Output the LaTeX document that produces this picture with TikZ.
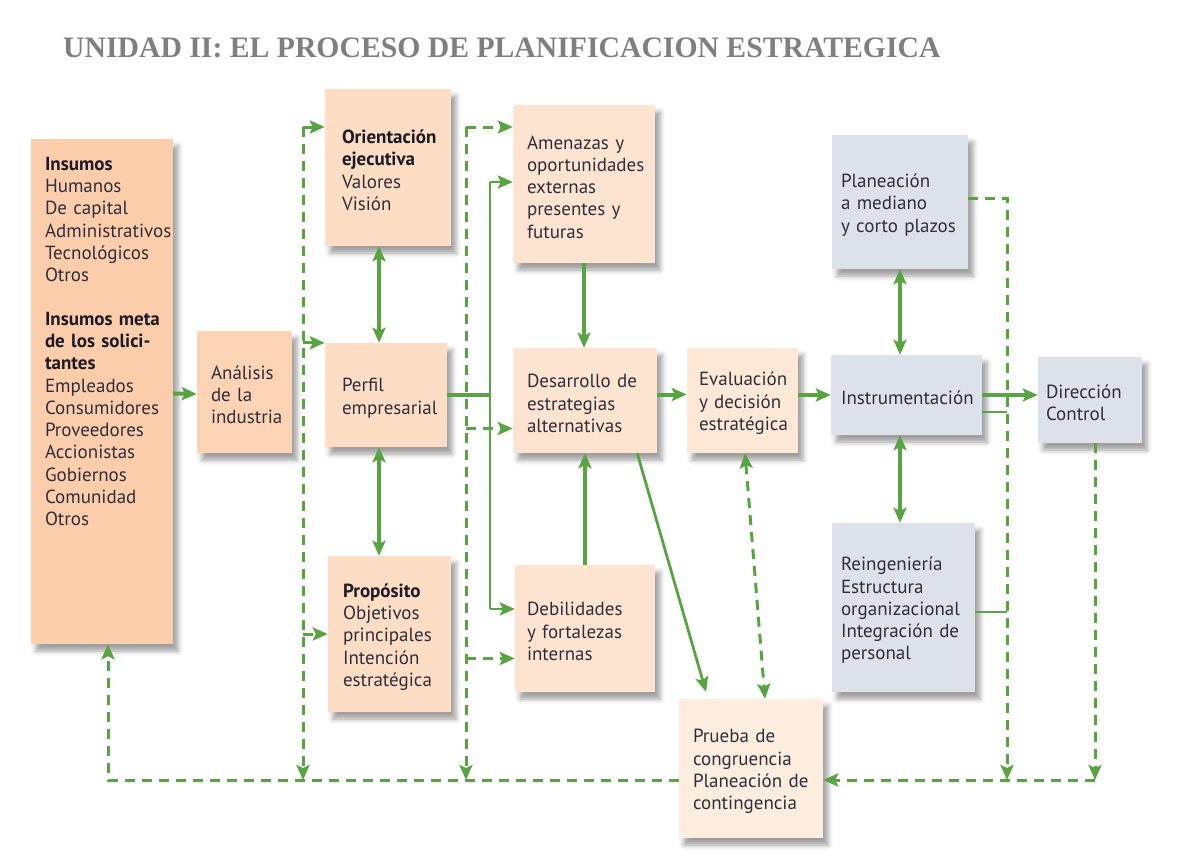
\documentclass[tikz,border=0pt]{standalone}
\usepackage{fontspec}
\setmainfont{PT Sans}
\newfontfamily\titlefont{Liberation Serif}
\usetikzlibrary{arrows.meta,shadows.blur}

\definecolor{flow}{RGB}{88,164,66}
\definecolor{peachA}{RGB}{252,205,170}
\definecolor{peachB}{RGB}{252,211,180}
\definecolor{peachC}{RGB}{253,221,196}
\definecolor{peachD}{RGB}{253,228,208}
\definecolor{peachE}{RGB}{253,232,214}
\definecolor{peachF}{RGB}{253,237,222}
\definecolor{slate}{RGB}{221,225,234}
\definecolor{ink}{RGB}{48,46,60}
\definecolor{inkbold}{RGB}{28,26,38}
\definecolor{titlegray}{RGB}{127,127,127}

\newcommand{\boxhead}[1]{{\bfseries\color{inkbold}#1}}

\tikzset{
  box/.style={fill=#1, align=left, inner sep=0pt, text=ink,
    font=\fontsize{19}{22.3}\selectfont,
    execute at begin node={\rule{0pt}{19.5pt}},
    blur shadow={shadow xshift=5pt, shadow yshift=-7pt, shadow blur radius=5pt, shadow opacity=38}},
  main/.style={draw=flow, line width=4pt},
  thinflow/.style={draw=flow, line width=2.8pt},
  fb/.style={draw=flow, line width=3pt, dash pattern=on 10pt off 7pt},
  tip/.style={-{Stealth[length=15pt,width=13pt,inset=3pt]}},
  tips/.style={{Stealth[length=15pt,width=13pt,inset=3pt]}-{Stealth[length=15pt,width=13pt,inset=3pt]}}
}

\begin{document}
\begin{tikzpicture}[x=1pt,y=-1pt]
  \useasboundingbox (0,0) rectangle (1193,862);
  \node[anchor=base west, inner sep=0pt, text=titlegray,
        font=\titlefont\bfseries\fontsize{29.7}{30}\selectfont] (title) at (63,57)
        {UNIDAD II: EL PROCESO DE PLANIFICACION ESTRATEGICA};

  % inputs and industry
  \node[box=peachA, minimum width=142pt, minimum height=505pt, text width=114pt] (ins) at (102,391.5)
    {\boxhead{Insumos}\\ Humanos\\ De~capital\\ Administrativos\\ Tecnológicos\\ Otros\\[21pt]
     \boxhead{Insumos~meta}\\ \boxhead{de~los~solici-}\\ \boxhead{tantes}\\ Empleados\\ Consumidores\\
     Proveedores\\ Accionistas\\ Gobiernos\\ Comunidad\\ Otros\\[84pt]\mbox{}};
  \node[box=peachB, minimum width=95pt, minimum height=122pt, text width=67pt] (ana) at (244.5,392)
    {Análisis\\ de~la\\ industria};

  % profile column
  \node[box=peachC, minimum width=126pt, minimum height=157pt, text width=92pt] (ori) at (388,167.5)
    {\boxhead{Orientación}\\ \boxhead{ejecutiva}\\ Valores\\ Visión};
  \node[box=peachC, minimum width=122pt, minimum height=104pt, text width=88pt] (per) at (386,395)
    {Perfil\\ empresarial};
  \node[box=peachC, minimum width=123pt, minimum height=156pt, text width=93pt] (pro) at (389.5,634)
    {\boxhead{Propósito}\\ Objetivos\\ principales\\ Intención\\ estratégica};

  % strategy column
  \node[box=peachD, minimum width=142pt, minimum height=158pt, text width=114pt] (ame) at (584,184)
    {Amenazas~y\\ oportunidades\\ externas\\ presentes~y\\ futuras};
  \node[box=peachD, minimum width=144pt, minimum height=105pt, text width=116pt] (des) at (585,400.5)
    {Desarrollo~de\\ estrategias\\ alternativas};
  \node[box=peachD, minimum width=140pt, minimum height=127pt, text width=116pt] (deb) at (585,628.5)
    {Debilidades\\ y~fortalezas\\ internas};
  \node[box=peachE, minimum width=111pt, minimum height=105pt, text width=87pt] (eva) at (742.5,400.5)
    {Evaluación\\ y~decisión\\ estratégica};
  \node[box=peachF, minimum width=144pt, minimum height=139pt, text width=116pt] (pru) at (751,768.5)
    {Prueba~de\\ congruencia\\ Planeación~de\\ contingencia};

  % implementation column
  \node[box=slate, minimum width=136pt, minimum height=134pt, text width=118pt] (pla) at (900,202)
    {Planeación\\ a~mediano\\ y~corto~plazos};
  \node[box=slate, minimum width=151pt, minimum height=80pt, text width=131pt] (inst) at (906.5,395)
    {Instrumentación};
  \node[box=slate, minimum width=143pt, minimum height=169pt, text width=125pt] (rei) at (903.5,607.5)
    {Reingeniería\\ Estructura\\ organizacional\\ Integración~de\\ personal};
  \node[box=slate, minimum width=104pt, minimum height=86pt, text width=88pt] (dir) at (1090,400)
    {Dirección\\ Control};

  \coordinate (pv) at ([xshift=-7pt]per.north);
  \coordinate (busT) at (490,182);
  \coordinate (busB) at (490,609);
  \coordinate (vA) at (303,127);
  \coordinate (vB) at (466,127);
  \coordinate (fbR) at (1007,780);
  \coordinate (fbD) at (1095,780);
  \coordinate (dIn) at ([yshift=-28pt]des.west);
  \coordinate (bIn) at ([yshift=-30pt]deb.west);
  \coordinate (ib) at ([yshift=-17pt]inst.east);
  \coordinate (rb) at ([yshift=-4.5pt]rei.east);

  % solid flow
  \draw[main,tip] ([yshift=-2pt]ins.east) -- ([yshift=-2pt]ana.west);
  \draw[main,tips] (pv |- ori.south) -- (pv);
  \draw[main,tips] (pv |- per.south) -- (pv |- pro.north);
  \draw[main] (per.east) -- (per.east -| busT);
  \draw[thinflow] (busT) -- (busB);
  \draw[thinflow,tip] (busT) -- (busT -| ame.west);
  \draw[thinflow,tip] (busB) -- (busB -| deb.west);
  \draw[main,tip] (ame.south) -- (ame.south |- des.north);
  \draw[main,tip] (deb.north) -- (deb.north |- des.south);
  \draw[main,tip] ([yshift=6pt]des.east) -- ([yshift=6pt]eva.west);
  \draw[main,tip] (eva.east |- inst.west) -- (inst.west);
  \draw[main,tips] (pla.south) -- (pla.south |- inst.north);
  \draw[main,tips] (pla.south |- inst.south) -- (pla.south |- rei.north);
  \draw[main,tip] (inst.east) -- (inst.east -| dir.west);
  \draw[thinflow,tip] ([xshift=-20pt]des.south east) -- ([xshift=-45pt,yshift=7pt]pru.north);
  \draw[thinflow] (ib) -- (ib -| fbR);
  \draw[thinflow] (rb) -- (rb -| fbR);

  % feedback
  \draw[fb,tip] ([yshift=4pt]pla.east) -| (fbR);
  \draw[fb,tip] ([xshift=5pt]dir.south) -- (fbD);
  \draw[fb,tip] (fbD) -- (fbD -| pru.east);
  \draw[fb,tip] (fbD -| pru.west) -| ([xshift=6pt]ins.south);
  \draw[fb,tips] ([xshift=2.5pt]eva.south) -- ([xshift=14pt]pru.north);
  \draw[fb,tip] (vA) -- (vA |- fbR);
  \draw[fb,tip] (vB) -- (vB |- fbR);
  \draw[fb,tip] (vA) -- (vA -| ori.west);
  \draw[fb,tip] (vA |- per.north) -- (per.north west);
  \draw[fb,tip] (vA |- pro.west) -- (pro.west);
  \draw[fb,tip] (vB) -- (vB -| ame.west);
  \draw[fb,tip] (vB |- dIn) -- (dIn);
  \draw[fb,tip] (vB |- bIn) -- (bIn);
\end{tikzpicture}
\end{document}
